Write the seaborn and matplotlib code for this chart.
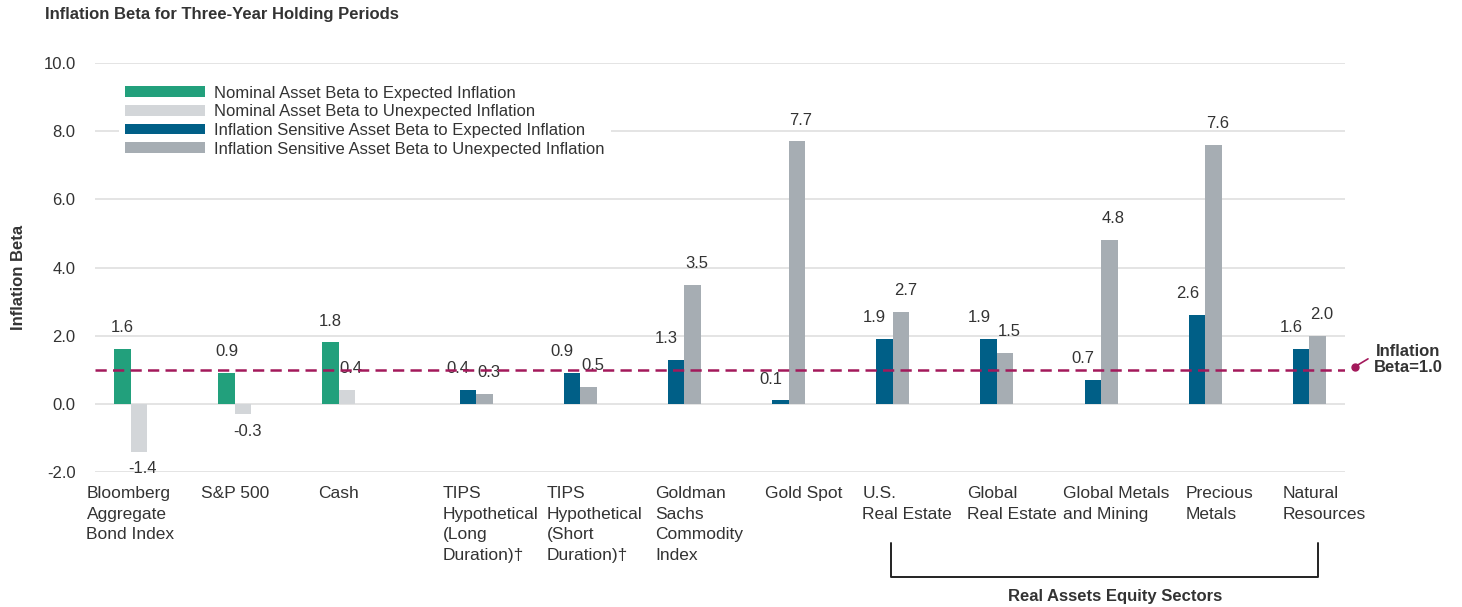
import matplotlib
matplotlib.use("Agg")
import matplotlib.pyplot as plt
import matplotlib.transforms as mtransforms
import pandas as pd
import seaborn as sns

categories = [
    "Bloomberg\nAggregate\nBond Index",
    "S&P 500",
    "Cash",
    "TIPS\nHypothetical\n(Long\nDuration)\u2020",
    "TIPS\nHypothetical\n(Short\nDuration)\u2020",
    "Goldman\nSachs\nCommodity\nIndex",
    "Gold Spot",
    "U.S.\nReal Estate",
    "Global\nReal Estate",
    "Global Metals\nand Mining",
    "Precious\nMetals",
    "Natural\nResources",
]
asset_types = ["Nominal"] * 3 + ["Inflation Sensitive"] * 9
beta_expected = [1.6, 0.9, 1.8, 0.4, 0.9, 1.3, 0.1, 1.9, 1.9, 0.7, 2.6, 1.6]
beta_unexpected = [-1.4, -0.3, 0.4, 0.3, 0.5, 3.5, 7.7, 2.7, 1.5, 4.8, 7.6, 2.0]

series = [
    "Nominal Asset Beta to Expected Inflation",
    "Nominal Asset Beta to Unexpected Inflation",
    "Inflation Sensitive Asset Beta to Expected Inflation",
    "Inflation Sensitive Asset Beta to Unexpected Inflation",
]
colors = ["#22a07c", "#d3d6d9", "#005f87", "#a6adb3"]
# horizontal nudge (points) of the value labels for each series
label_nudge = [0, 3, -7, 3]

rows = []
for cat, kind, e, u in zip(categories, asset_types, beta_expected, beta_unexpected):
    rows.append({"Category": cat, "Series": f"{kind} Asset Beta to Expected Inflation", "Beta": e})
    rows.append({"Category": cat, "Series": f"{kind} Asset Beta to Unexpected Inflation", "Beta": u})
df = pd.DataFrame(rows)

sns.set_style("white")
plt.rcParams["font.family"] = ["Liberation Sans", "DejaVu Sans"]
plt.rcParams["axes.unicode_minus"] = False
text_color = "#333333"
line_color = "#a3195b"

fig = plt.figure(figsize=(14.62, 6.07), dpi=100)
ax = fig.add_axes([95 / 1462, 1 - 472 / 607, 1250 / 1462, 409 / 607])

bar_width = 0.635
sns.barplot(
    data=df,
    x="Category",
    y="Beta",
    hue="Series",
    order=categories,
    hue_order=series,
    palette=colors,
    width=bar_width,
    errorbar=None,
    saturation=1,
    linewidth=0,
    ax=ax,
)

ax.set_ylim(-2, 10)
ax.set_xlim(-0.5, len(categories) - 0.5)
ax.set_yticks(range(-2, 11, 2))
ax.set_yticklabels([f"{v:.1f}" for v in range(-2, 11, 2)])
ax.yaxis.grid(True, color="#e2e2e2", linewidth=1.3)
ax.set_axisbelow(True)
sns.despine(ax=ax, left=True, bottom=True)

# category labels sit under the pair of bars drawn for each category
# (a little to the right for the inflation sensitive assets)
tick_pos = [
    i - bar_width / 4 if kind == "Nominal" else i + bar_width / 4 + 0.14
    for i, kind in enumerate(asset_types)
]
ax.set_xticks(tick_pos)
ax.set_xticklabels(categories, ha="center", multialignment="left", linespacing=1.47)
ax.tick_params(axis="x", length=0, pad=10, labelsize=12.5, labelcolor=text_color)
ax.tick_params(axis="y", length=0, pad=14, labelsize=12, labelcolor=text_color)
ax.set_xlabel("")
ax.set_ylabel("")

# value labels
for container, nudge in zip(ax.containers, label_nudge):
    for bar in container:
        h = bar.get_height()
        if pd.isna(h):
            continue
        x = bar.get_x() + bar.get_width() / 2
        ax.annotate(
            f"{h:.1f}",
            xy=(x, h),
            xytext=(nudge, 10 if h >= 0 else -7),
            textcoords="offset points",
            ha="center",
            va="bottom" if h >= 0 else "top",
            fontsize=12,
            color=text_color,
        )

# inflation beta = 1 reference line
ax.axhline(1.0, color=line_color, linewidth=1.8, linestyle=(0, (4.5, 2.5)), zorder=3)
blend = mtransforms.blended_transform_factory(ax.transAxes, ax.transData)
ax.plot([1.008], [1.09], marker="o", markersize=5, color=line_color,
        transform=blend, clip_on=False)
ax.plot([1.008, 1.0184], [1.09, 1.32], color=line_color, linewidth=1.2,
        transform=blend, clip_on=False)
ax.text(1.0504, 1.3, "Inflation\nBeta=1.0", transform=blend, ha="center",
        va="center", fontsize=12, fontweight="bold", color=text_color,
        linespacing=1.15)

# legend
handles, labels = ax.get_legend_handles_labels()
leg = ax.legend(
    handles,
    labels,
    loc="upper left",
    bbox_to_anchor=(0.019, 0.961),
    borderaxespad=0,
    borderpad=0.4,
    frameon=True,
    fontsize=12,
    handlelength=4.8,
    handleheight=0.6,
    handletextpad=0.5,
    labelspacing=0.22,
)
leg.get_frame().set_facecolor("white")
leg.get_frame().set_edgecolor("none")
leg.get_frame().set_alpha(1)
for t in leg.get_texts():
    t.set_color(text_color)

# bracket for the real assets equity sectors
bx = mtransforms.blended_transform_factory(ax.transData, ax.transAxes)
ax.plot([7.14, 7.14, 11.24, 11.24], [-0.1736, -0.2567, -0.2567, -0.1736],
        color="#222222", linewidth=1.4, transform=bx, clip_on=False)
ax.text(9.29, -0.3056, "Real Assets Equity Sectors", transform=bx,
        ha="center", va="center", fontsize=12, fontweight="bold", color=text_color)

fig.text(45 / 1462, 1 - 15 / 607, "Inflation Beta for Three-Year Holding Periods",
         ha="left", va="center", fontsize=12, fontweight="bold", color=text_color)
fig.text(19 / 1462, 1 - 277 / 607, "Inflation Beta", rotation=90, ha="center",
         va="center", fontsize=12, fontweight="bold", color=text_color)

fig.savefig("out.png", dpi=100)
